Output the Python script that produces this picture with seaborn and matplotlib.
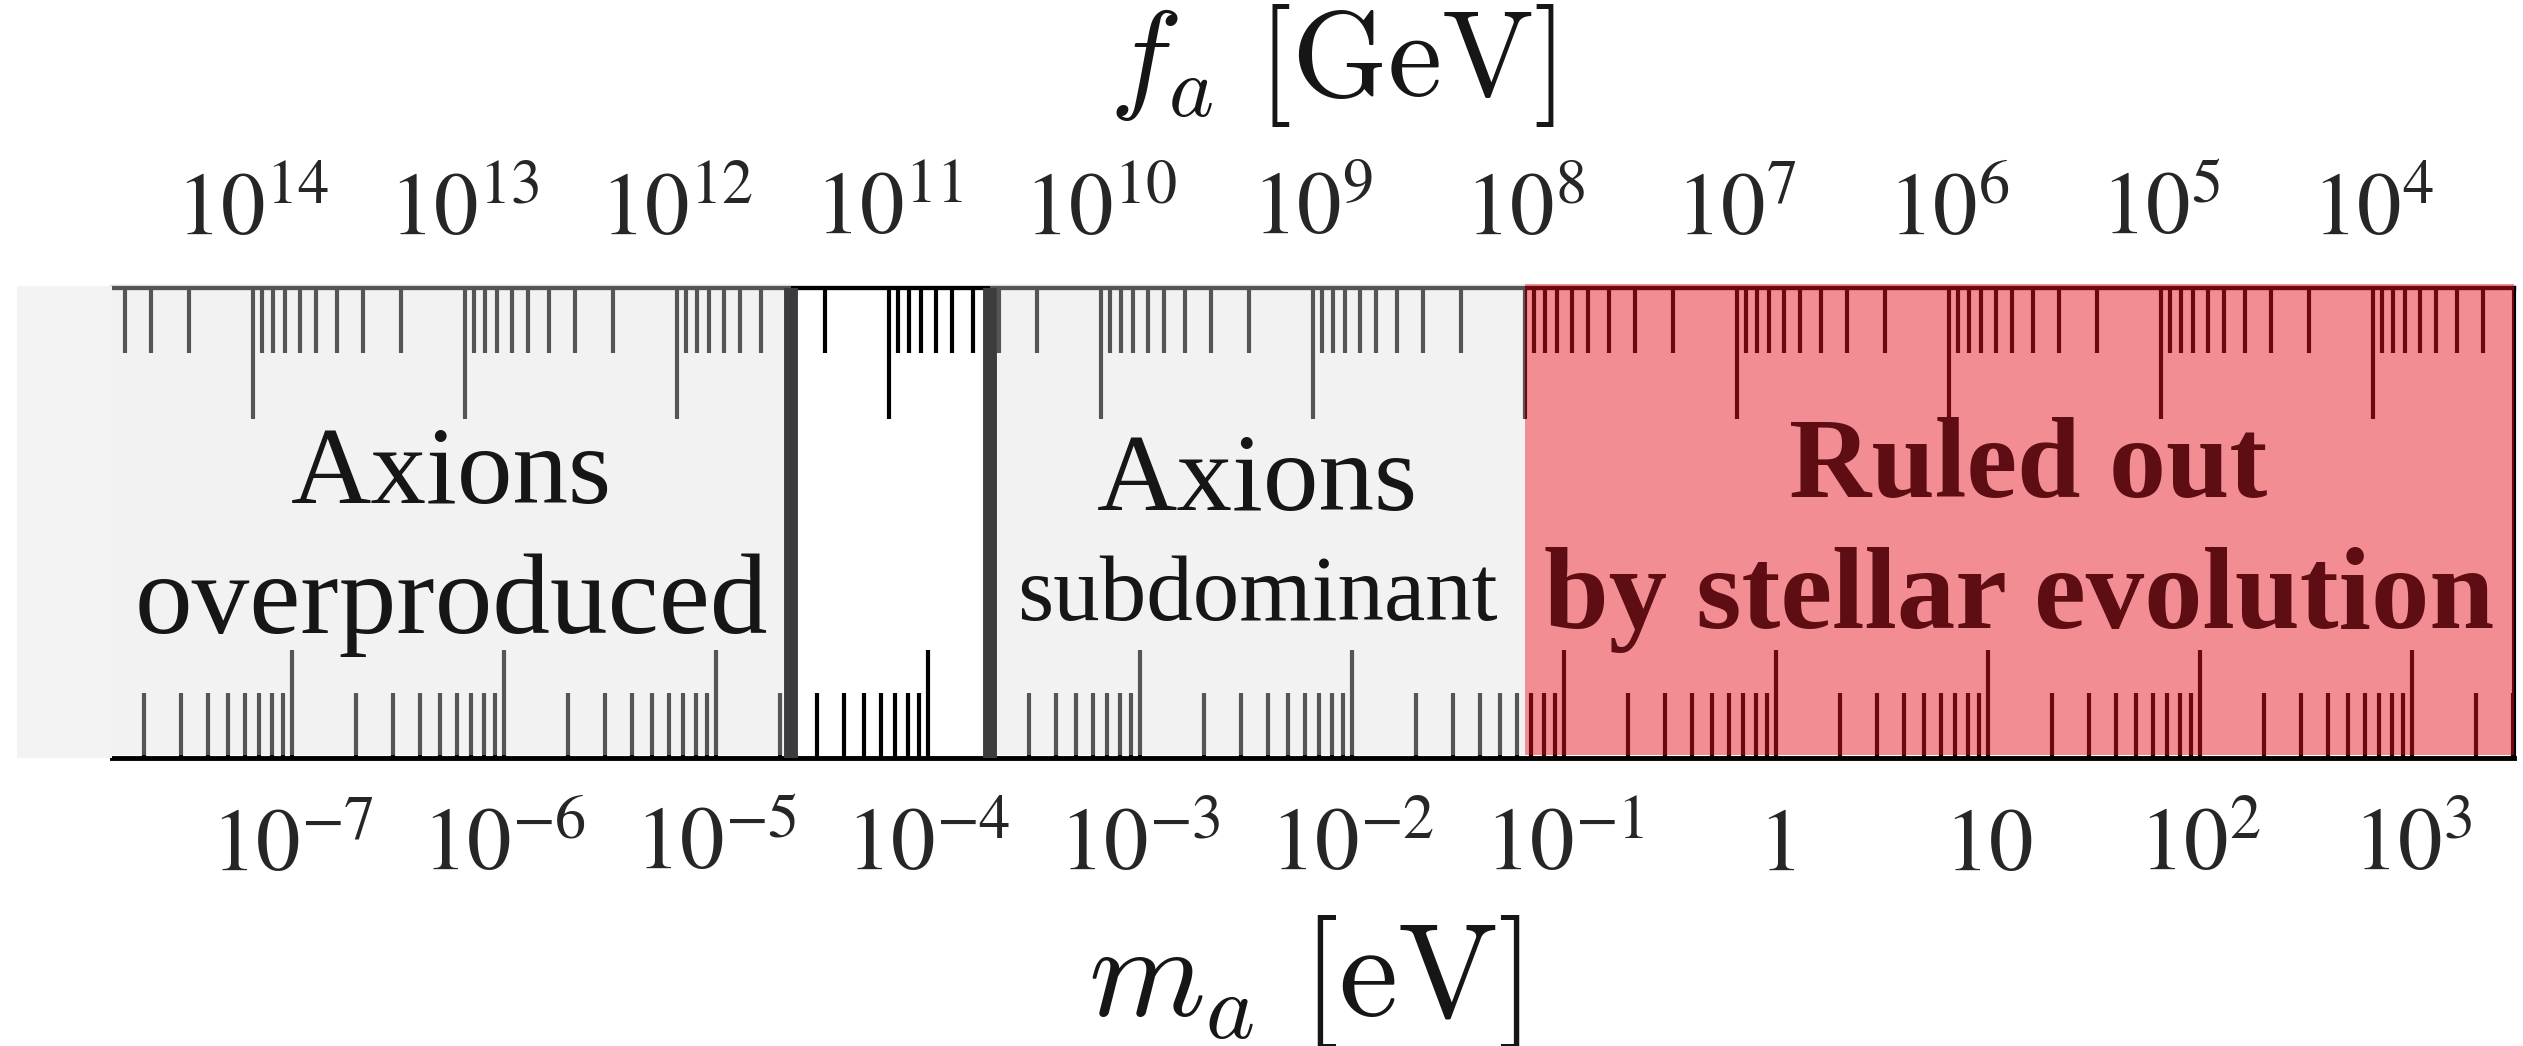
import numpy as np
import matplotlib
matplotlib.use("Agg")
import matplotlib.pyplot as plt
import seaborn as sns
from matplotlib.ticker import FixedLocator, FixedFormatter, LogLocator, NullFormatter
from matplotlib.patches import Rectangle

# ---------------- data ----------------
ma_ticks = [1e-7, 1e-6, 1e-5, 1e-4, 1e-3, 1e-2, 1e-1, 1.0, 10.0, 1e2, 1e3]
ma_tick_labels = [r"$10^{-7}$", r"$10^{-6}$", r"$10^{-5}$", r"$10^{-4}$", r"$10^{-3}$",
                  r"$10^{-2}$", r"$10^{-1}$", r"$1$", r"$10$", r"$10^{2}$", r"$10^{3}$"]
fa_ticks = [1e14, 1e13, 1e12, 1e11, 1e10, 1e9, 1e8, 1e7, 1e6, 1e5, 1e4]
fa_tick_labels = [r"$10^{14}$", r"$10^{13}$", r"$10^{12}$", r"$10^{11}$", r"$10^{10}$",
                  r"$10^{9}$", r"$10^{8}$", r"$10^{7}$", r"$10^{6}$", r"$10^{5}$", r"$10^{4}$"]
ma_range = [10 ** -7.85, 10 ** 3.48]          # eV, visible span
fa_ma_product = 6.5e6                           # m_a [eV] * f_a [GeV]

region_lo = [ma_range[0], 2.25e-5, 1.96e-4, 6.5e-2]
region_hi = [2.25e-5, 1.96e-4, 6.5e-2, ma_range[1]]
region_kind = ["gray", "window", "gray", "red"]
region_line1 = ["Axions", "", "Axions", "Ruled out"]
region_line2 = ["overproduced", "", "subdominant", "by stellar evolution"]

# ---------------- style ----------------
sns.set_theme(style="white")
plt.rcParams["font.family"] = ["Liberation Serif", "DejaVu Serif"]
plt.rcParams["mathtext.fontset"] = "stix"

W, H = 2523, 1046
fig = plt.figure(figsize=(W / 100, H / 100), dpi=100, facecolor="white")
ax_left, ax_right, ax_top, ax_bot = 112, 2514, 288, 758
ax = fig.add_axes([ax_left / W, 1 - ax_bot / H, (ax_right - ax_left) / W, (ax_bot - ax_top) / H])
ax.set_facecolor("white")

ax.set_xscale("log")
ax.set_xlim(*ma_range)
ax.set_ylim(0, 1)
ax.set_yticks([])

ax.xaxis.set_major_locator(FixedLocator(ma_ticks))
ax.xaxis.set_major_formatter(FixedFormatter(ma_tick_labels))
ax.xaxis.set_minor_locator(LogLocator(base=10, subs=np.arange(2, 10), numticks=200))
ax.xaxis.set_minor_formatter(NullFormatter())
ax.tick_params(axis="x", which="major", direction="in", length=78, width=3.0,
               color="black", labelsize=64, pad=36, bottom=True)
ax.tick_params(axis="x", which="minor", direction="in", length=47, width=3.0,
               color="black", bottom=True)

ax.spines["left"].set_visible(False)
ax.spines["bottom"].set_color("black")
ax.spines["bottom"].set_linewidth(3.5)
ax.spines["top"].set_color("black")
ax.spines["top"].set_linewidth(3.0)
ax.spines["right"].set_color("black")
ax.spines["right"].set_linewidth(3.0)

secax = ax.secondary_xaxis("top", functions=(lambda m: fa_ma_product / m,
                                               lambda f: fa_ma_product / f))
secax.xaxis.set_major_locator(FixedLocator(fa_ticks))
secax.xaxis.set_major_formatter(FixedFormatter(fa_tick_labels))
secax.xaxis.set_minor_locator(LogLocator(base=10, subs=np.arange(2, 10), numticks=200))
secax.xaxis.set_minor_formatter(NullFormatter())
secax.tick_params(axis="x", which="major", direction="in", length=94, width=3.0,
                  color="black", labelsize=64, pad=25)
secax.tick_params(axis="x", which="minor", direction="in", length=47, width=3.0,
                  color="black")
secax.spines["top"].set_color("black")
secax.spines["top"].set_linewidth(3.0)

# axis titles
ax.text(0.508, 1.338, r"$f_a\ [\mathrm{GeV}]$", transform=ax.transAxes, fontsize=88,
        math_fontfamily="cm", ha="center", va="bottom", color="#161616")
ax.text(0.4963, -0.33, r"$m_a\ [\mathrm{eV}]$", transform=ax.transAxes, fontsize=96,
        math_fontfamily="cm", ha="center", va="top", color="#161616")

# region overlays
overlay = {"gray": ("#dddedd", 0.384), "red": ("#e5111f", 0.48)}
text_color = {"gray": "#161616", "red": "#5e0d12"}
for lo, hi, kind, t1, t2 in zip(region_lo, region_hi, region_kind, region_line1, region_line2):
    if kind in overlay:
        c, a = overlay[kind]
        ax.axvspan(lo, hi, ymin=0.006, ymax=1.008, color=c, alpha=a, lw=0,
                   zorder=3, clip_on=False)
    xc = np.sqrt(lo * hi)
    if kind == "gray" and t2 == "subdominant":
        ax.text(xc, 0.528, t1, ha="center", va="baseline", fontsize=80,
                color=text_color[kind], zorder=6)
        ax.text(xc, 0.294, t2, ha="center", va="baseline", fontsize=67,
                color=text_color[kind], zorder=6)
    elif kind == "gray":
        ax.text(xc, 0.543, t1, ha="center", va="baseline", fontsize=80,
                color=text_color[kind], zorder=6)
        ax.text(xc, 0.266, t2, ha="center", va="baseline", fontsize=83,
                color=text_color[kind], zorder=6)
    elif kind == "red":
        ax.text(xc * 1.1, 0.555, t1, ha="center", va="baseline", fontsize=82,
                fontweight="bold", color=text_color[kind], zorder=6)
        ax.text(xc, 0.277, t2, ha="center", va="baseline", fontsize=84,
                fontweight="bold", color=text_color[kind], zorder=6)

# thick borders of the open window
win = region_kind.index("window")
for xb in (region_lo[win], region_hi[win]):
    ax.axvline(xb, ymin=0, ymax=1, color="#3c3c3f", lw=10, zorder=5)

# gray margin left of the ruler
fig.patches.append(Rectangle((17 / W, 1 - ax_bot / H), (ax_left - 17) / W, (ax_bot - 286) / H,
                             transform=fig.transFigure, facecolor="#f2f3f2",
                             edgecolor="none", zorder=0))

fig.savefig("out.png", dpi=100, facecolor="white")
